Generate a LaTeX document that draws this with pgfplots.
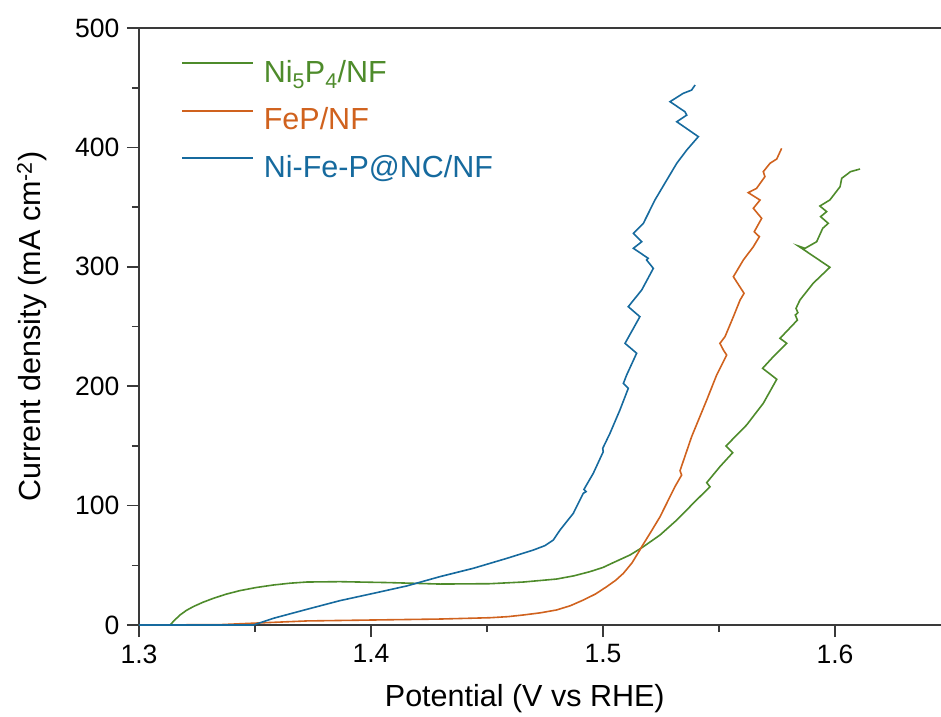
\documentclass[border=0pt]{standalone}
\usepackage{fontspec}
\setmainfont{Liberation Sans}
\usepackage{pgfplots}
\pgfplotsset{compat=1.18}
\definecolor{cgreen}{RGB}{78,139,43}
\definecolor{corange}{RGB}{208,98,30}
\definecolor{cblue}{RGB}{22,106,158}
\definecolor{axgray}{RGB}{58,58,58}
\begin{document}
\begin{tikzpicture}
\begin{axis}[
  width=802pt, height=597pt, scale only axis,
  xmin=1.3, xmax=1.6457, ymin=0, ymax=500,
  axis lines=left, axis line style={-, axgray, line width=2pt},
  clip=false,
  xtick={1.3,1.4,1.5,1.6}, ytick={0,100,200,300,400,500},
  minor x tick num=1, minor y tick num=1,
  tick align=outside, major tick length=12pt, minor tick length=7pt,
  every tick/.style={axgray, line width=1.6pt},
  tick label style={font=\fontsize{26.5}{31}\selectfont, black},
  /pgf/number format/assume math mode=true,
  xticklabel style={yshift=-4pt, /pgf/number format/.cd, fixed, fixed zerofill, precision=1},
  yticklabel style={xshift=-4pt, /pgf/number format/fixed},
  xlabel={Potential (V vs RHE)},
  ylabel={Current density (mA cm\textsuperscript{-2})},
  label style={font=\fontsize{30.5}{36}\selectfont},
  xlabel style={at={(axis description cs:0.481,-0.1368)}, anchor=base},
  ylabel style={at={(axis description cs:-0.1334,0.5)}, anchor=center},
  legend style={draw=none, fill=none, inner sep=0pt,
    at={(axis description cs:0.0524,0.9497)}, anchor=north west,
    font=\fontsize{30.5}{36}\selectfont,
    nodes={inner sep=0pt, text height=24pt, text depth=8pt},
    row sep=15.5pt, column sep=10pt},
  legend cell align=left,
  legend image code/.code={\draw[#1] (0pt,11pt) -- (71pt,11pt);},
]
% Ni5P4/NF
\addplot[cgreen, line width=1.6pt] coordinates {
(1.300,0) (1.3129,0) (1.3134,0) (1.3152,3.8) (1.3177,8.4) (1.3204,12.2) (1.3234,15.4) (1.3275,19.0) (1.3320,22.3) (1.3375,25.8) (1.3435,28.8)
(1.3505,31.4) (1.3579,33.5) (1.3650,35.0) (1.3723,36.0) (1.3866,36.3) (1.4082,35.5) (1.4297,34.3) (1.4513,34.6)
(1.4657,36.0) (1.4800,38.5) (1.4875,41.2) (1.4944,44.7) (1.5000,48.2) (1.5044,52.2) (1.5116,58.6) (1.5159,63.7)
(1.5174,65.6) (1.5246,75.4) (1.5318,87.9) (1.5389,101.9) (1.5461,115.8) (1.5447,119.2)
(1.5504,132.6) (1.5559,144.3) (1.5530,149.9) (1.5619,167.5) (1.5691,185.7) (1.5749,205.8)
(1.5688,215.0) (1.5734,224.7) (1.5792,235.9) (1.5763,240.1) (1.5838,255.4) (1.5829,259.6)
(1.5840,261.6) (1.5832,265.2) (1.5849,272.2) (1.5906,286.2) (1.5978,299.6) (1.5842,317.4)
(1.5871,315.5) (1.5921,321.0) (1.5947,332.2) (1.5971,336.4) (1.5938,342.0) (1.5964,346.2)
(1.5935,350.9) (1.5978,356.0) (1.6022,367.1) (1.6029,374.1) (1.6067,379.7) (1.6108,381.9)
};
\addlegendentry{\textcolor{cgreen}{Ni\textsubscript{5}P\textsubscript{4}/NF}}
% FeP/NF
\addplot[corange, line width=1.6pt] coordinates {
(1.300,0) (1.335,0.3) (1.3478,1.4) (1.3723,3.4) (1.4010,4.2) (1.4297,5.0) (1.4513,6.1)
(1.4590,7.0) (1.4657,8.4) (1.4730,10.2) (1.4800,12.6) (1.4860,16.2) (1.4915,20.9) (1.4968,26.0) (1.5016,32.1) (1.5055,37.5) (1.5088,43.3) (1.5125,52.0) (1.5159,62.8)
(1.5167,65.6) (1.5205,77.5) (1.5246,90.7) (1.5310,115.8) (1.5339,125.6) (1.5332,129.2) (1.5382,157.7)
(1.5447,188.4) (1.5490,209.4) (1.5533,226.1) (1.5519,230.3) (1.5504,235.9) (1.5526,241.5)
(1.5562,258.2) (1.5591,272.2) (1.5608,277.8) (1.5562,291.7) (1.5605,305.7) (1.5648,316.8)
(1.5674,325.2) (1.5652,329.4) (1.5684,340.6) (1.5648,349.0) (1.5677,355.9) (1.5626,362.1)
(1.5662,365.7) (1.5698,375.5) (1.5691,379.7) (1.5720,386.7) (1.5749,390.3) (1.5770,399.2)
};
\addlegendentry{\textcolor{corange}{FeP/NF}}
% Ni-Fe-P@NC/NF
\addplot[cblue, line width=1.6pt] coordinates {
(1.300,0) (1.3493,0) (1.3579,5.6) (1.3723,13.1) (1.3866,20.4) (1.4010,26.5) (1.4154,32.7)
(1.4297,40.5) (1.4441,47.5) (1.4585,55.8) (1.4700,62.8) (1.4750,66.5) (1.4786,71.2) (1.4815,79.6)
(1.4872,93.5) (1.4915,110.3) (1.4927,111.7) (1.4918,113.6) (1.4958,127.0) (1.5001,145.1)
(1.4999,148.0) (1.5030,160.5) (1.5073,180.1) (1.5109,198.2) (1.5088,202.4) (1.5102,209.4)
(1.5145,227.6) (1.5095,235.9) (1.5159,258.2) (1.5109,266.6) (1.5167,280.6) (1.5217,298.7)
(1.5188,305.7) (1.5195,307.1) (1.5131,315.5) (1.5167,321.0) (1.5131,328.1) (1.5174,336.4)
(1.5224,356.0) (1.5275,372.7) (1.5318,386.7) (1.5361,397.8) (1.5411,409.0) (1.5318,421.5)
(1.5361,427.1) (1.5353,429.9) (1.5289,438.3) (1.5346,445.3) (1.5382,448.0) (1.5397,452.3)
};
\addlegendentry{\textcolor{cblue}{Ni-Fe-P@NC/NF}}
\draw[axgray, line width=2pt] (rel axis cs:0,1) -- (rel axis cs:1,1);
\end{axis}
\pgfresetboundingbox
\path (-139pt,-91pt) rectangle (802pt,625pt);
\end{tikzpicture}
\end{document}
